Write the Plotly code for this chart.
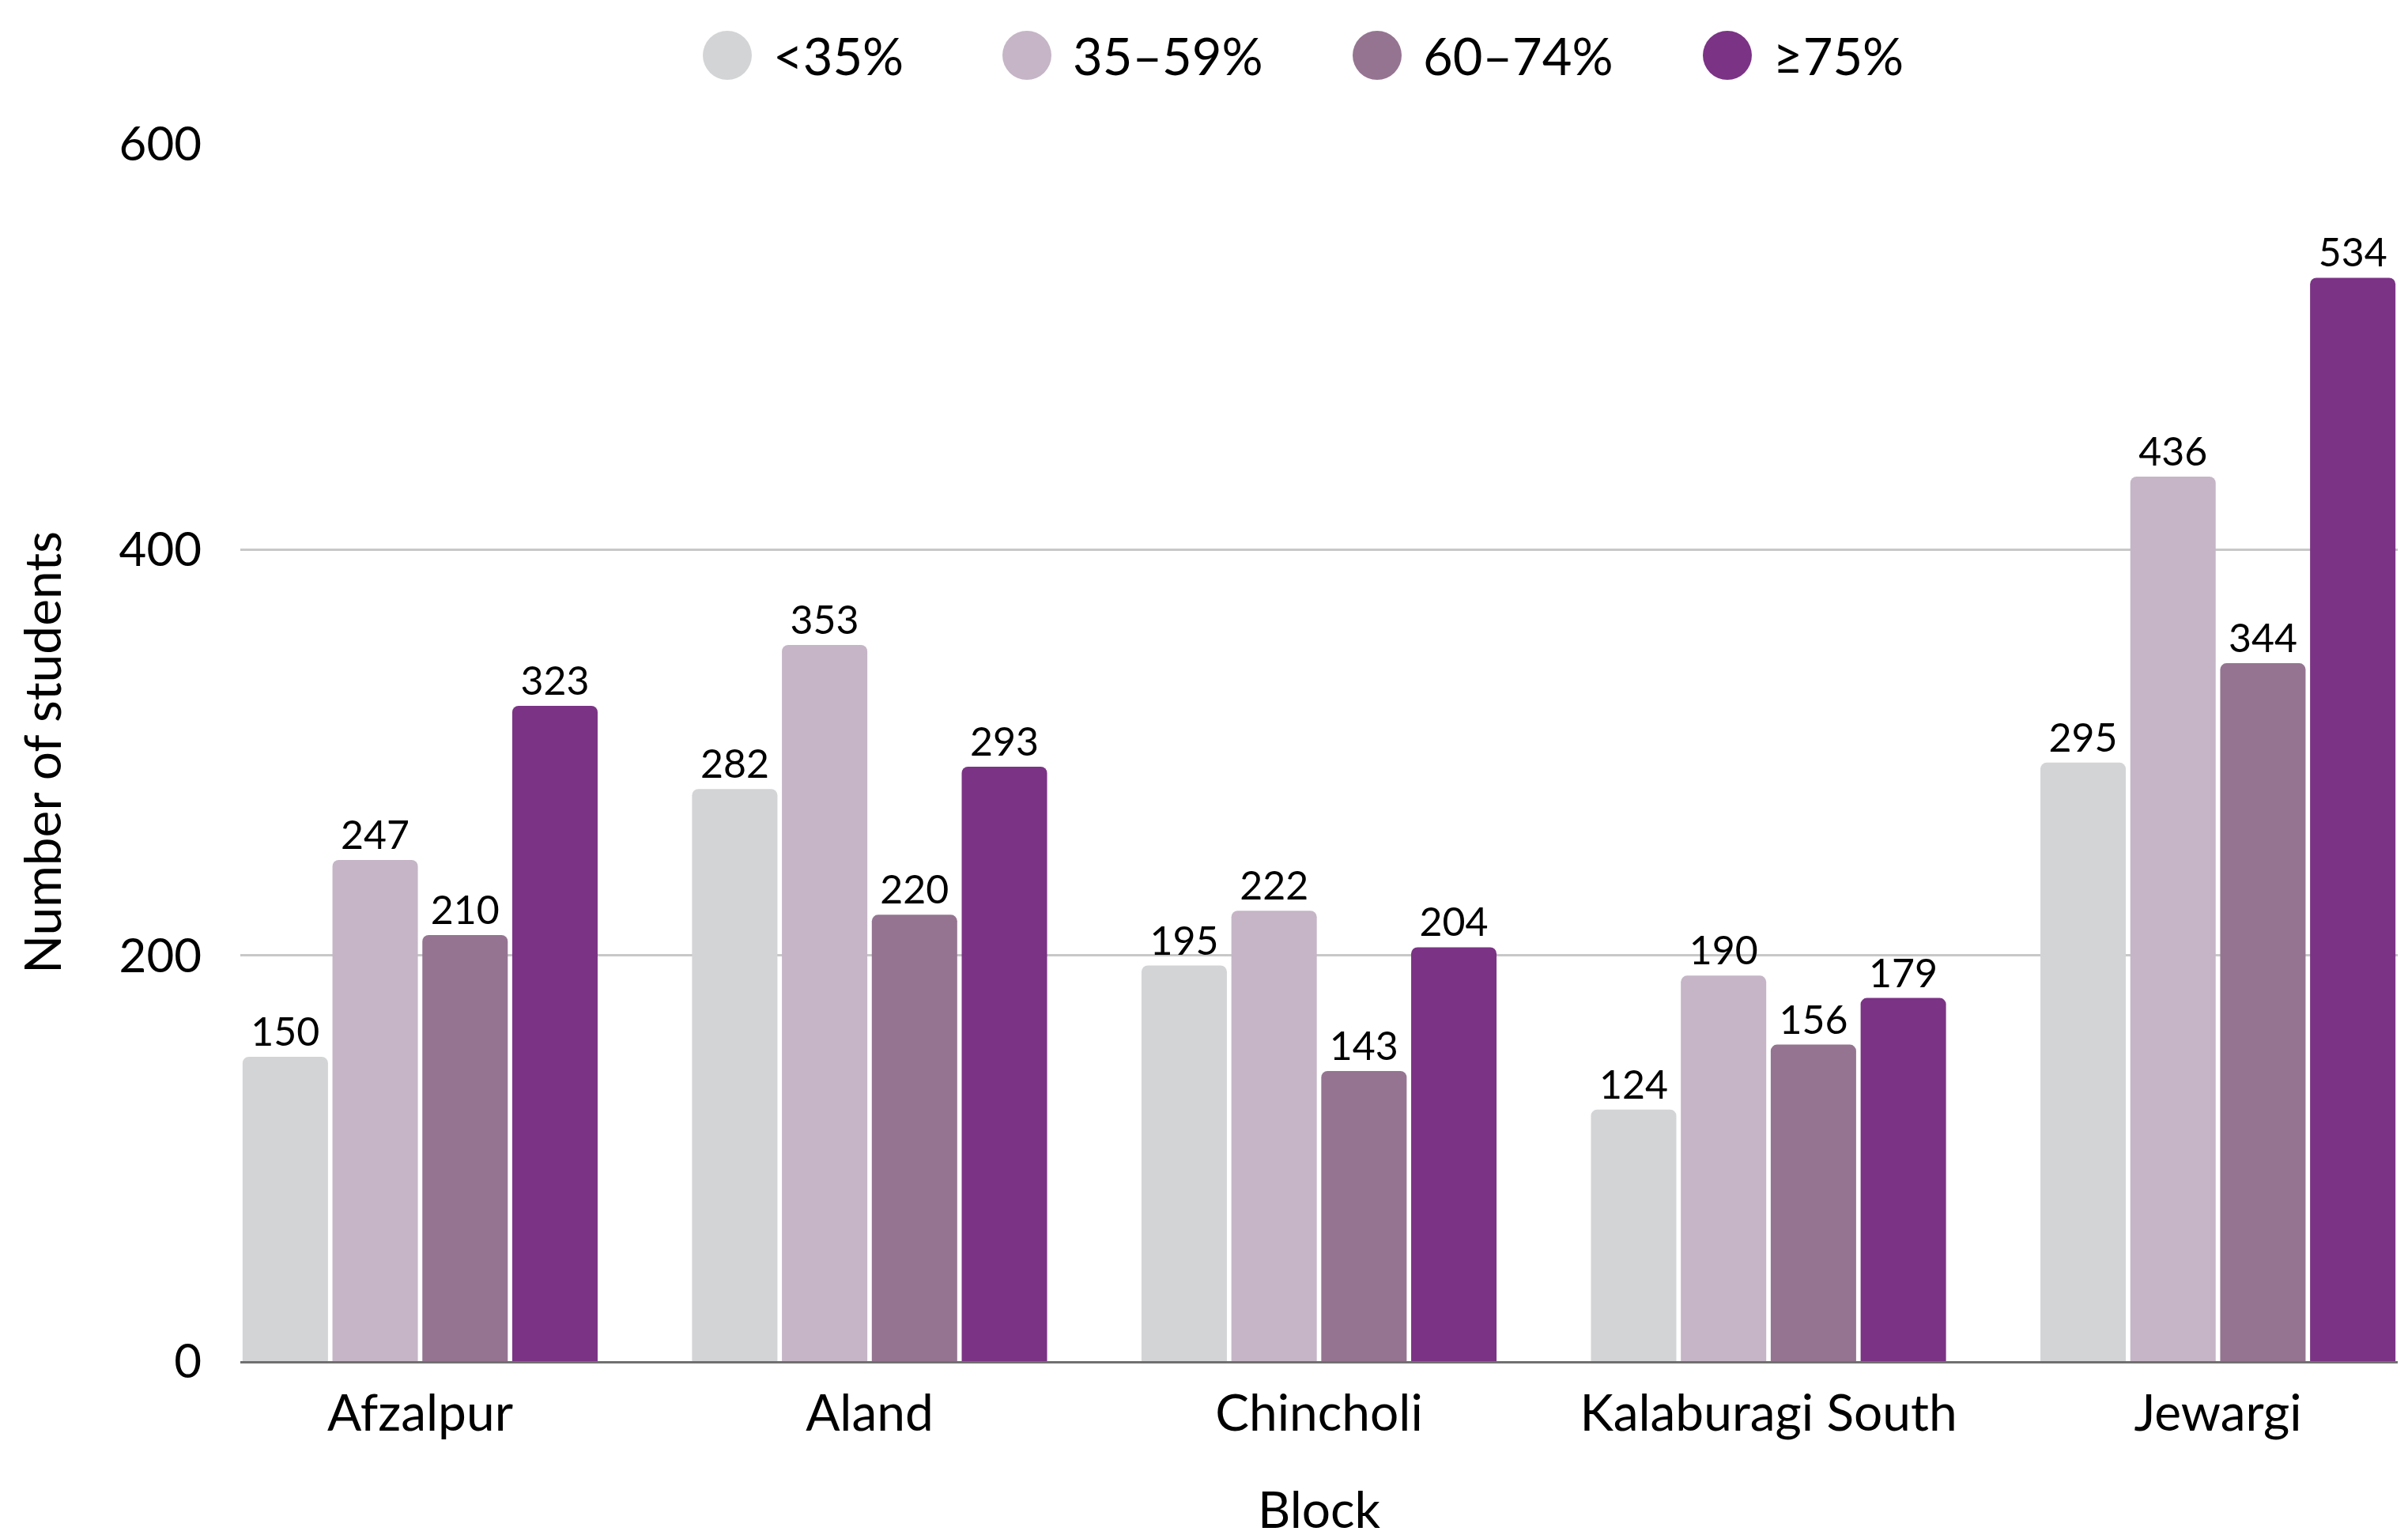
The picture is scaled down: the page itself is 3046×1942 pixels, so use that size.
import plotly.graph_objects as go

# ---- data ----
blocks = ["Afzalpur", "Aland", "Chincholi", "Kalaburagi South", "Jewargi"]
series_names = ["<35%", "35–59%", "60–74%", "≥75%"]
vals_lt35 = [150, 282, 195, 124, 295]
vals_35_59 = [247, 353, 222, 190, 436]
vals_60_74 = [210, 220, 143, 156, 344]
vals_ge75 = [323, 293, 204, 179, 534]
y_ticks = [0, 200, 400, 600]

# ---- style ----
colors = ["#D3D4D6", "#C5B5C6", "#957491", "#7B3385"]
FONT = "Lato"
W, H = 3046, 1942
ML, MR, MT, MB = 296, 21, 174, 228

series_vals = [vals_lt35, vals_35_59, vals_60_74, vals_ge75]

fig = go.Figure()
for name, vals, col in zip(series_names, series_vals, colors):
    fig.add_trace(go.Bar(
        x=blocks, y=vals, name=name,
        marker=dict(color=col, line=dict(width=0), cornerradius=8),
        text=vals, textposition="outside",
        textfont=dict(family=FONT, size=50, color="#000000"),
        cliponaxis=False, showlegend=False,
    ))

# custom legend (large circle markers) centred above the plot
legend_x_px = [912, 1291, 1734, 2177]
legend_y_px = 62
pw = W - ML - MR
ph = H - MT - MB
ly = 1 + (MT - legend_y_px) / ph
for name, col, xp in zip(series_names, colors, legend_x_px):
    lx = (xp - ML) / pw
    fig.add_shape(type="circle", xref="paper", yref="paper",
                  xsizemode="pixel", ysizemode="pixel",
                  xanchor=lx, yanchor=ly, x0=-31, x1=31, y0=-31, y1=31,
                  fillcolor=col, line=dict(width=0))
    fig.add_annotation(xref="paper", yref="paper", x=lx, y=ly, xshift=56,
                       xanchor="left", yanchor="middle", text=name, showarrow=False,
                       font=dict(family=FONT, size=65, color="#000000"))

fig.update_layout(
    width=W, height=H,
    margin=dict(l=ML, r=MR, t=MT, b=MB, pad=0),
    paper_bgcolor="white", plot_bgcolor="white",
    barmode="group", bargap=0.2, bargroupgap=0.05,
    font=dict(family=FONT, color="#000000"),
    showlegend=False,
)
fig.update_xaxes(
    range=[-0.4, 4.4], showgrid=False, showline=True, linecolor="#707070", linewidth=3,
    layer="below traces", ticks="", ticklabelstandoff=8,
    tickfont=dict(family=FONT, size=64, color="#000000"),
    title=dict(text="Block", font=dict(family=FONT, size=64, color="#000000"), standoff=66),
)
fig.update_yaxes(
    range=[0, 600], tickvals=y_ticks, showgrid=True, gridcolor="#C8C8C8", gridwidth=3,
    zeroline=False, showline=False, ticks="", ticklabelstandoff=48,
    layer="below traces",
    tickfont=dict(family=FONT, size=60, color="#000000"),
    title=dict(text="Number of students", font=dict(family=FONT, size=64, color="#000000"), standoff=52),
)

fig.write_html("out.html")
